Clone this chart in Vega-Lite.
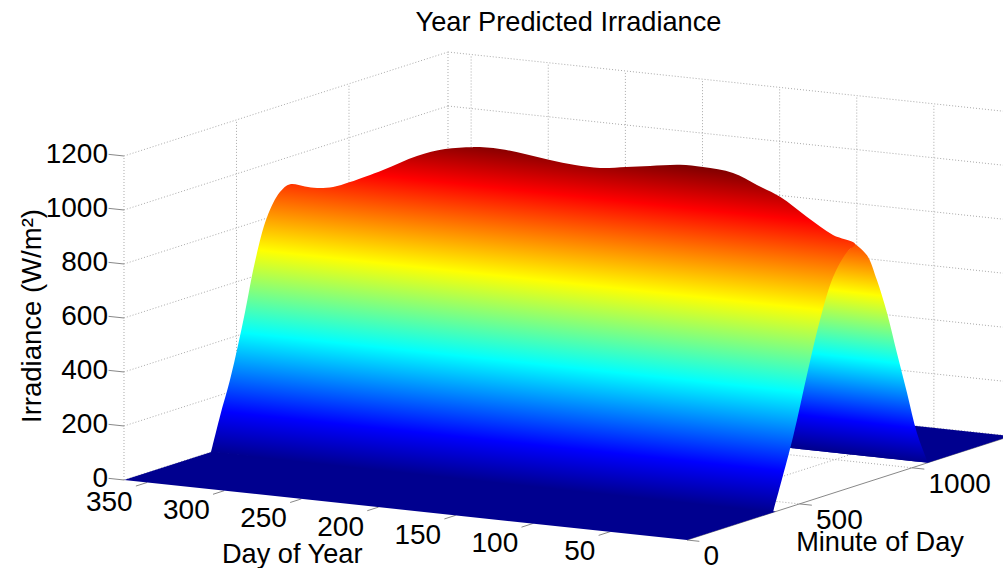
{"$schema":"https://vega.github.io/schema/vega-lite/v6.json","width":1003,"height":568,"padding":0,"autosize":"none","background":"white","config":{"view":{"stroke":null},"font":"Liberation Sans"},
"title":{"text":"Year Predicted Irradiance","font":"Liberation Sans","fontSize":27.2,"fontWeight":"normal","color":"black","anchor":"middle","frame":"group","dx":67,"offset":-37},
"data":{"values":[
{"part":"grid","day":365,"minute":0,"irradiance":0,"day2":365,"minute2":1440,"irradiance2":0},
{"part":"grid","day":365,"minute":0,"irradiance":200,"day2":365,"minute2":1440,"irradiance2":200},
{"part":"grid","day":365,"minute":0,"irradiance":400,"day2":365,"minute2":1440,"irradiance2":400},
{"part":"grid","day":365,"minute":0,"irradiance":600,"day2":365,"minute2":1440,"irradiance2":600},
{"part":"grid","day":365,"minute":0,"irradiance":800,"day2":365,"minute2":1440,"irradiance2":800},
{"part":"grid","day":365,"minute":0,"irradiance":1000,"day2":365,"minute2":1440,"irradiance2":1000},
{"part":"grid","day":365,"minute":0,"irradiance":1200,"day2":365,"minute2":1440,"irradiance2":1200},
{"part":"grid","day":365,"minute":1440,"irradiance":0,"day2":0,"minute2":1440,"irradiance2":0},
{"part":"grid","day":365,"minute":1440,"irradiance":200,"day2":0,"minute2":1440,"irradiance2":200},
{"part":"grid","day":365,"minute":1440,"irradiance":400,"day2":0,"minute2":1440,"irradiance2":400},
{"part":"grid","day":365,"minute":1440,"irradiance":600,"day2":0,"minute2":1440,"irradiance2":600},
{"part":"grid","day":365,"minute":1440,"irradiance":800,"day2":0,"minute2":1440,"irradiance2":800},
{"part":"grid","day":365,"minute":1440,"irradiance":1000,"day2":0,"minute2":1440,"irradiance2":1000},
{"part":"grid","day":365,"minute":1440,"irradiance":1200,"day2":0,"minute2":1440,"irradiance2":1200},
{"part":"grid","day":365,"minute":0,"irradiance":0,"day2":365,"minute2":0,"irradiance2":1200},
{"part":"grid","day":365,"minute":500,"irradiance":0,"day2":365,"minute2":500,"irradiance2":1200},
{"part":"grid","day":365,"minute":1000,"irradiance":0,"day2":365,"minute2":1000,"irradiance2":1200},
{"part":"grid","day":365,"minute":1440,"irradiance":0,"day2":365,"minute2":1440,"irradiance2":1200},
{"part":"grid","day":350,"minute":1440,"irradiance":0,"day2":350,"minute2":1440,"irradiance2":1200},
{"part":"grid","day":300,"minute":1440,"irradiance":0,"day2":300,"minute2":1440,"irradiance2":1200},
{"part":"grid","day":250,"minute":1440,"irradiance":0,"day2":250,"minute2":1440,"irradiance2":1200},
{"part":"grid","day":200,"minute":1440,"irradiance":0,"day2":200,"minute2":1440,"irradiance2":1200},
{"part":"grid","day":150,"minute":1440,"irradiance":0,"day2":150,"minute2":1440,"irradiance2":1200},
{"part":"grid","day":100,"minute":1440,"irradiance":0,"day2":100,"minute2":1440,"irradiance2":1200},
{"part":"grid","day":50,"minute":1440,"irradiance":0,"day2":50,"minute2":1440,"irradiance2":1200},
{"part":"grid","day":365,"minute":500,"irradiance":0,"day2":0,"minute2":500,"irradiance2":0},
{"part":"grid","day":365,"minute":1000,"irradiance":0,"day2":0,"minute2":1000,"irradiance2":0},
{"part":"grid","day":50,"minute":0,"irradiance":0,"day2":50,"minute2":1440,"irradiance2":0},
{"part":"grid","day":100,"minute":0,"irradiance":0,"day2":100,"minute2":1440,"irradiance2":0},
{"part":"tick","day":0,"minute":0,"irradiance":0,"day2":0,"minute2":1440,"irradiance2":0},
{"part":"tick","day":365,"minute":0,"irradiance":0,"day2":375,"minute2":0,"irradiance2":0},
{"part":"tick","day":365,"minute":0,"irradiance":200,"day2":375,"minute2":0,"irradiance2":200},
{"part":"tick","day":365,"minute":0,"irradiance":400,"day2":375,"minute2":0,"irradiance2":400},
{"part":"tick","day":365,"minute":0,"irradiance":600,"day2":375,"minute2":0,"irradiance2":600},
{"part":"tick","day":365,"minute":0,"irradiance":800,"day2":375,"minute2":0,"irradiance2":800},
{"part":"tick","day":365,"minute":0,"irradiance":1000,"day2":375,"minute2":0,"irradiance2":1000},
{"part":"tick","day":365,"minute":0,"irradiance":1200,"day2":375,"minute2":0,"irradiance2":1200},
{"part":"tick","day":350,"minute":0,"irradiance":0,"day2":350,"minute2":-50,"irradiance2":0},
{"part":"tick","day":300,"minute":0,"irradiance":0,"day2":300,"minute2":-50,"irradiance2":0},
{"part":"tick","day":250,"minute":0,"irradiance":0,"day2":250,"minute2":-50,"irradiance2":0},
{"part":"tick","day":200,"minute":0,"irradiance":0,"day2":200,"minute2":-50,"irradiance2":0},
{"part":"tick","day":150,"minute":0,"irradiance":0,"day2":150,"minute2":-50,"irradiance2":0},
{"part":"tick","day":100,"minute":0,"irradiance":0,"day2":100,"minute2":-50,"irradiance2":0},
{"part":"tick","day":50,"minute":0,"irradiance":0,"day2":50,"minute2":-50,"irradiance2":0},
{"part":"tick","day":0,"minute":0,"irradiance":0,"day2":-8,"minute2":0,"irradiance2":0},
{"part":"tick","day":0,"minute":500,"irradiance":0,"day2":-8,"minute2":500,"irradiance2":0},
{"part":"tick","day":0,"minute":1000,"irradiance":0,"day2":-8,"minute2":1000,"irradiance2":0},
{"part":"far","seq":1,"day":0,"minute":1071,"irradiance":0},
{"part":"far","seq":2,"day":0,"minute":1440,"irradiance":0},
{"part":"far","seq":3,"day":365,"minute":1440,"irradiance":0},
{"part":"far","seq":4,"day":365,"minute":1071,"irradiance":0},
{"part":"near","seq":1,"day":365,"minute":0,"irradiance":0},
{"part":"near","seq":2,"day":0,"minute":0,"irradiance":0},
{"part":"near","seq":3,"day":0,"minute":395,"irradiance":0},
{"part":"near","seq":4,"day":365,"minute":395,"irradiance":0},
{"part":"bell","seq":1,"day":0,"minute":747,"irradiance":897},
{"part":"bell","seq":2,"day":0,"minute":800,"irradiance":841},
{"part":"bell","seq":3,"day":0,"minute":844,"irradiance":737},
{"part":"bell","seq":4,"day":0,"minute":889,"irradiance":603},
{"part":"bell","seq":5,"day":0,"minute":933,"irradiance":443},
{"part":"bell","seq":6,"day":0,"minute":978,"irradiance":283},
{"part":"bell","seq":7,"day":0,"minute":1022,"irradiance":123},
{"part":"bell","seq":8,"day":0,"minute":1071,"irradiance":0},
{"part":"bell","seq":9,"day":0,"minute":1071,"irradiance":0},
{"part":"bell","seq":10,"day":88,"minute":1071,"irradiance":0},
{"part":"bell","seq":11,"day":88,"minute":1071,"irradiance":0},
{"part":"bell","seq":12,"day":88,"minute":1071,"irradiance":548},
{"part":"bell","seq":13,"day":88,"minute":1071,"irradiance":548},
{"part":"bell","seq":14,"day":0,"minute":747,"irradiance":897},
{"part":"body","seq":1,"day":0,"minute":382,"irradiance":0},
{"part":"body","seq":2,"day":0,"minute":382,"irradiance":0},
{"part":"body","seq":3,"day":0,"minute":471,"irradiance":255},
{"part":"body","seq":4,"day":0,"minute":538,"irradiance":486},
{"part":"body","seq":5,"day":0,"minute":591,"irradiance":657},
{"part":"body","seq":6,"day":0,"minute":649,"irradiance":800},
{"part":"body","seq":7,"day":0,"minute":711,"irradiance":877},
{"part":"body","seq":8,"day":0,"minute":747,"irradiance":897},
{"part":"body","seq":9,"day":13.3,"minute":740,"irradiance":924},
{"part":"body","seq":10,"day":30.1,"minute":740,"irradiance":980},
{"part":"body","seq":11,"day":47.6,"minute":740,"irradiance":1044},
{"part":"body","seq":12,"day":62.6,"minute":740,"irradiance":1079},
{"part":"body","seq":13,"day":78.1,"minute":740,"irradiance":1114},
{"part":"body","seq":14,"day":97.6,"minute":740,"irradiance":1124},
{"part":"body","seq":15,"day":112.5,"minute":740,"irradiance":1123},
{"part":"body","seq":16,"day":131.9,"minute":740,"irradiance":1107},
{"part":"body","seq":17,"day":147.5,"minute":740,"irradiance":1094},
{"part":"body","seq":18,"day":164.3,"minute":740,"irradiance":1080},
{"part":"body","seq":19,"day":180.5,"minute":740,"irradiance":1081},
{"part":"body","seq":20,"day":196.8,"minute":740,"irradiance":1090},
{"part":"body","seq":21,"day":213,"minute":740,"irradiance":1102},
{"part":"body","seq":22,"day":229.2,"minute":740,"irradiance":1111},
{"part":"body","seq":23,"day":246.7,"minute":740,"irradiance":1107},
{"part":"body","seq":24,"day":264.8,"minute":740,"irradiance":1089},
{"part":"body","seq":25,"day":283,"minute":740,"irradiance":1052},
{"part":"body","seq":26,"day":305,"minute":740,"irradiance":987},
{"part":"body","seq":27,"day":326.4,"minute":740,"irradiance":929},
{"part":"body","seq":28,"day":337.4,"minute":740,"irradiance":904},
{"part":"body","seq":29,"day":347.8,"minute":740,"irradiance":894},
{"part":"body","seq":30,"day":355.6,"minute":740,"irradiance":895},
{"part":"body","seq":31,"day":365,"minute":738,"irradiance":898},
{"part":"body","seq":32,"day":365,"minute":693,"irradiance":881},
{"part":"body","seq":33,"day":365,"minute":636,"irradiance":804},
{"part":"body","seq":34,"day":365,"minute":582,"irradiance":652},
{"part":"body","seq":35,"day":365,"minute":538,"irradiance":478},
{"part":"body","seq":36,"day":365,"minute":507,"irradiance":364},
{"part":"body","seq":37,"day":365,"minute":471,"irradiance":244},
{"part":"body","seq":38,"day":365,"minute":427,"irradiance":123},
{"part":"body","seq":39,"day":365,"minute":387,"irradiance":0},
{"part":"body","seq":40,"day":365,"minute":387,"irradiance":0},
{"part":"body","seq":41,"day":0,"minute":382,"irradiance":0},
{"part":"body","seq":42,"day":0,"minute":382,"irradiance":0},
{"part":"zlabel","label":"0","day":365,"minute":0,"irradiance":0},
{"part":"zlabel","label":"200","day":365,"minute":0,"irradiance":200},
{"part":"zlabel","label":"400","day":365,"minute":0,"irradiance":400},
{"part":"zlabel","label":"600","day":365,"minute":0,"irradiance":600},
{"part":"zlabel","label":"800","day":365,"minute":0,"irradiance":800},
{"part":"zlabel","label":"1000","day":365,"minute":0,"irradiance":1000},
{"part":"zlabel","label":"1200","day":365,"minute":0,"irradiance":1200},
{"part":"daylabel","label":"350","day":350,"minute":0,"irradiance":0},
{"part":"daylabel","label":"300","day":300,"minute":0,"irradiance":0},
{"part":"daylabel","label":"250","day":250,"minute":0,"irradiance":0},
{"part":"daylabel","label":"200","day":200,"minute":0,"irradiance":0},
{"part":"daylabel","label":"150","day":150,"minute":0,"irradiance":0},
{"part":"daylabel","label":"100","day":100,"minute":0,"irradiance":0},
{"part":"daylabel","label":"50","day":50,"minute":0,"irradiance":0},
{"part":"minlabel","label":"0","day":0,"minute":0,"irradiance":0},
{"part":"minlabel","label":"500","day":0,"minute":500,"irradiance":0},
{"part":"minlabel","label":"1000","day":0,"minute":1000,"irradiance":0},
{"part":"daytitle","label":"Day of Year","day":230,"minute":0,"irradiance":0},
{"part":"mintitle","label":"Minute of Day","day":0,"minute":500,"irradiance":0},
{"part":"ztitle","label":"Irradiance (W/m²)","day":365,"minute":0,"irradiance":600}
]},
"transform":[
{"calculate":"687-1.5425*datum.day+0.225*datum.minute","as":"px"},
{"calculate":"540-0.1644*datum.day-0.0722*datum.minute-0.27*datum.irradiance","as":"py"},
{"calculate":"687-1.5425*datum.day2+0.225*datum.minute2","as":"px2"},
{"calculate":"540-0.1644*datum.day2-0.0722*datum.minute2-0.27*datum.irradiance2","as":"py2"}
],
"encoding":{
"x":{"field":"px","type":"quantitative","scale":{"domain":[0,1003]},"axis":null},
"y":{"field":"py","type":"quantitative","scale":{"domain":[0,568],"reverse":true},"axis":null}
},
"layer":[
{"transform":[{"filter":"datum.part=='grid'"}],"mark":{"type":"rule","stroke":"#aaaaaa","strokeWidth":1,"strokeDash":[1,2]},"encoding":{"x2":{"field":"px2"},"y2":{"field":"py2"}}},
{"transform":[{"filter":"datum.part=='tick'"}],"mark":{"type":"rule","stroke":"#888888","strokeWidth":1},"encoding":{"x2":{"field":"px2"},"y2":{"field":"py2"}}},
{"transform":[{"filter":"datum.part=='far'"}],"mark":{"type":"line","fill":"#00008f","stroke":null},"encoding":{"order":{"field":"seq"}}},
{"transform":[{"filter":"datum.part=='bell'"}],"mark":{"type":"line","interpolate":"catmull-rom","stroke":null,"fill":{"gradient":"linear","x1":-0.0676,"y1":0.9222,"x2":0.0199,"y2":-0.2723,"stops":[{"offset":0,"color":"#00008f"},{"offset":0.125,"color":"#0000ff"},{"offset":0.365,"color":"#00ffff"},{"offset":0.615,"color":"#ffff00"},{"offset":0.875,"color":"#ff0000"},{"offset":1,"color":"#800000"}]}},"encoding":{"order":{"field":"seq"}}},
{"transform":[{"filter":"datum.part=='near'"}],"mark":{"type":"line","fill":"#00008f","stroke":null},"encoding":{"order":{"field":"seq"}}},
{"transform":[{"filter":"datum.part=='body'"}],"mark":{"type":"line","interpolate":"catmull-rom","stroke":null,"fill":{"gradient":"linear","x1":-0.1514,"y1":0.8075,"x2":0.0158,"y2":-0.0845,"stops":[{"offset":0,"color":"#00008f"},{"offset":0.125,"color":"#0000ff"},{"offset":0.365,"color":"#00ffff"},{"offset":0.615,"color":"#ffff00"},{"offset":0.875,"color":"#ff0000"},{"offset":1,"color":"#800000"}]}},"encoding":{"order":{"field":"seq"}}},
{"transform":[{"filter":"datum.part=='zlabel'"}],"mark":{"type":"text","font":"Liberation Sans","fontSize":28,"align":"right","baseline":"middle","dx":-16,"dy":-1,"color":"black"},"encoding":{"text":{"field":"label"}}},
{"transform":[{"filter":"datum.part=='daylabel'"}],"mark":{"type":"text","font":"Liberation Sans","fontSize":28,"align":"right","baseline":"middle","dx":-14.5,"dy":20.5,"color":"black"},"encoding":{"text":{"field":"label"}}},
{"transform":[{"filter":"datum.part=='minlabel'"}],"mark":{"type":"text","font":"Liberation Sans","fontSize":28,"align":"left","baseline":"middle","dx":16.5,"dy":17,"color":"black"},"encoding":{"text":{"field":"label"}}},
{"transform":[{"filter":"datum.part=='daytitle'"}],"mark":{"type":"text","font":"Liberation Sans","fontSize":27.2,"align":"center","baseline":"middle","dx":-40,"dy":53,"color":"black"},"encoding":{"text":{"field":"label"}}},
{"transform":[{"filter":"datum.part=='mintitle'"}],"mark":{"type":"text","font":"Liberation Sans","fontSize":27.2,"align":"center","baseline":"middle","dx":80.5,"dy":39,"color":"black"},"encoding":{"text":{"field":"label"}}},
{"transform":[{"filter":"datum.part=='ztitle'"}],"mark":{"type":"text","font":"Liberation Sans","fontSize":27.5,"align":"center","baseline":"middle","angle":270,"dx":2,"dy":-91,"color":"black"},"encoding":{"text":{"field":"label"}}}
]}
